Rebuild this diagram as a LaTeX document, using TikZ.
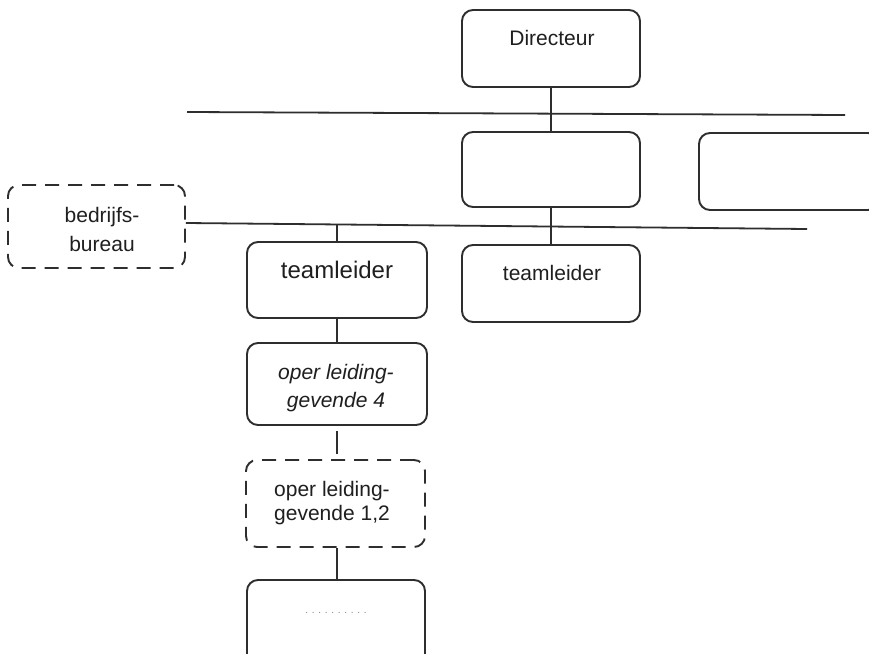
\documentclass[tikz,border=0pt]{standalone}
\usepackage{fontspec}
\setmainfont{Liberation Sans}
\begin{document}
\begin{tikzpicture}[x=1pt,y=-1pt,
  ln/.style={line width=1.8pt, black!82},
  box/.style={draw=black!82, line width=1.9pt, rounded corners=11pt, inner sep=0pt},
  dbox/.style={box, dash pattern=on 14pt off 9pt},
  txt/.style={font=\fontsize{21}{25}\selectfont, inner sep=0pt, align=center, text=black!88}]
\useasboundingbox (0,0) rectangle (869,653);
\clip (0,0) rectangle (869,653);
\fill[white] (0,0) rectangle (869,653);
% boxes
\node[box, minimum width=178pt, minimum height=77pt] (dir) at (551,48.5) {};
\node[box, minimum width=178pt, minimum height=75pt] (mid) at (551,169.5) {};
\node[box, minimum width=180pt, minimum height=77pt] (right) at (789,171.5) {};
\node[dbox, minimum width=177pt, minimum height=83pt] (bb) at (96.5,226.5) {};
\node[box, minimum width=180pt, minimum height=76pt] (tl1) at (337,280) {};
\node[box, minimum width=178pt, minimum height=77pt] (tl2) at (551,283.5) {};
\node[box, minimum width=180pt, minimum height=82pt] (op4) at (337,384) {};
\node[dbox, minimum width=179pt, minimum height=87pt] (op12) at (335.5,503.5) {};
\node[box, minimum width=178pt, minimum height=85pt] (bot) at (336,622.5) {};
% texts
\node[txt] (tdir) at (552,38) {Directeur};
\node[txt, font=\fontsize{21}{29}\selectfont] (tbb) at (102,229) {bedrijfs-\\bureau};
\node[txt, font=\fontsize{24}{28}\selectfont] (ttl1) at (337,270) {teamleider};
\node[txt] (ttl2) at (552,273) {teamleider};
\node[txt, font=\fontsize{21}{28}\selectfont\itshape] (top4) at (336,388) {oper leiding-\\gevende 4};
\node[txt, align=left, font=\fontsize{21}{24}\selectfont] (top12) at (332,503) {oper leiding-\\gevende 1,2};
\def\dd{.\hspace{3.7pt}}
\node[inner sep=0pt, font=\fontsize{10}{12}\selectfont, text=black!50] (tdots) at (336,613) {\dd\dd\dd\dd\dd\dd\dd\dd\dd.};
% horizontal lines
\coordinate (l1s) at (187,112);
\coordinate (l1e) at (845,115);
\coordinate (l2e) at (807,229);
\coordinate (l2a) at (337,224.5);
\draw[ln] (l1s) -- (l1e);
\draw[ln] (bb.east) ++(0,-3.5) coordinate (l2s) -- (l2e);
% connectors
\draw[ln] (dir.south) -- (mid.north);
\draw[ln] (mid.south) -- (tl2.north);
\draw[ln] (l2a) -- (tl1.north);
\draw[ln] (tl1.south) -- (tl1.south |- op4.north);
\draw[ln] ([yshift=-5pt]op4.south) -- ([yshift=5pt]op4.south |- op12.north);
\draw[ln] (op12.south -| op4.south) -- (op4.south |- bot.north);
\end{tikzpicture}
\end{document}
